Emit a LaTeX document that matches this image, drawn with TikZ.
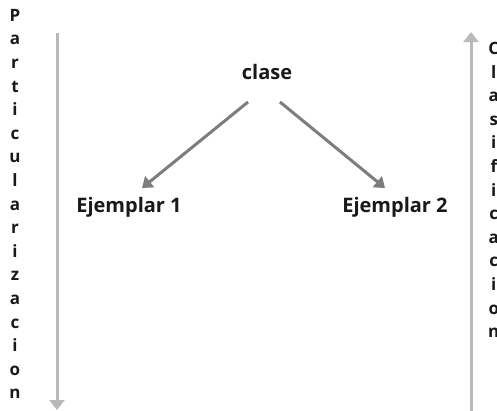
\documentclass[tikz,border=0pt]{standalone}
\usepackage{fontspec}
\setmainfont{Open Sans}
\usetikzlibrary{arrows.meta}
\definecolor{sidegray}{RGB}{185,185,185}
\definecolor{midgray}{RGB}{125,125,125}
\definecolor{txt}{RGB}{25,25,25}
\begin{document}
\begin{tikzpicture}[x=1pt,y=-1pt,
  lbl/.style={font=\fontsize{20}{24}\selectfont\bfseries, text=txt, inner sep=0pt},
  vert/.style={font=\fontsize{17}{23.6}\selectfont\bfseries, text=txt, align=center, inner sep=0pt, anchor=north},
  sidearrow/.style={draw=sidegray, line width=3pt, -{Triangle[width=15pt,length=10pt]}},
  midarrow/.style={draw=midgray, line width=3pt, -{Triangle[width=14pt,length=10pt]}}]
\useasboundingbox (0,0) rectangle (497,410);
\clip (0,0) rectangle (497,410);
\fill[white] (0,0) rectangle (497,410);
% side labels
\node[vert] (part) at (15,9) {P\\a\\r\\t\\i\\c\\u\\l\\a\\r\\i\\z\\a\\c\\i\\o\\n};
\node[vert, anchor=north west] (clas) at (488,42) {C\\l\\a\\s\\i\\f\\i\\c\\a\\c\\i\\o\\n};
% side arrows
\coordinate (ltop) at (57,33);
\coordinate (lbot) at (57,410);
\coordinate (rbot) at (471,412);
\coordinate (rtop) at (471,32);
\draw[sidearrow] (ltop) -- (lbot);
\draw[sidearrow] (rbot) -- (rtop);
% main nodes
\node[lbl] (clase) at (267,72) {clase};
\node[lbl] (e1) at (129,207) {Ejemplar 1};
\node[lbl] (e2) at (395,207) {Ejemplar 2};
\coordinate (s1) at (248,102);
\coordinate (t1) at (142,188);
\coordinate (s2) at (280,102);
\coordinate (t2) at (385,188);
\draw[midarrow] (s1) -- (t1);
\draw[midarrow] (s2) -- (t2);
\end{tikzpicture}
\end{document}
